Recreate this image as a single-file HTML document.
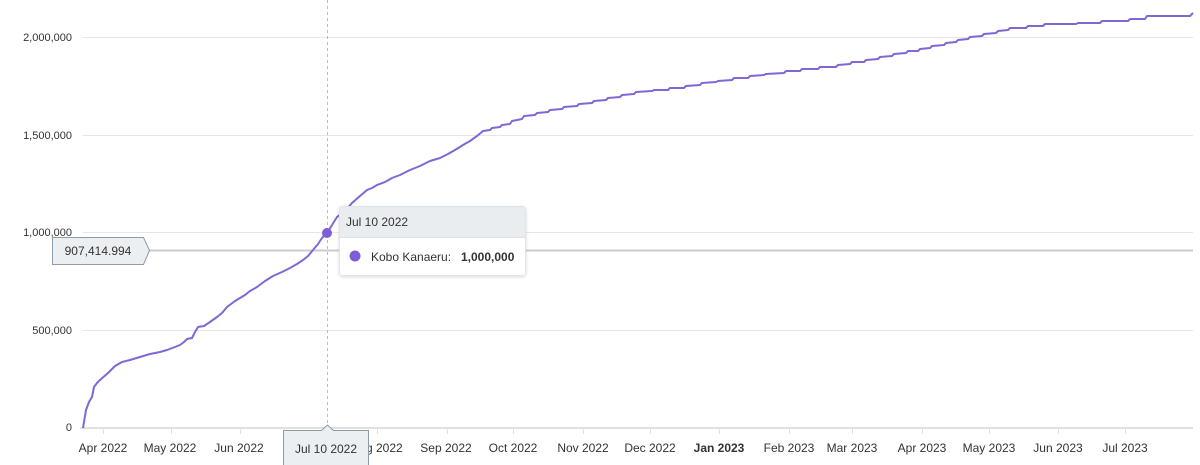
<!DOCTYPE html>
<html><head><meta charset="utf-8"><style>
html,body{margin:0;padding:0;background:#fff;}
svg{display:block;font-family:"Liberation Sans",Arial,sans-serif;}
</style></head><body>
<svg width="1200" height="465" viewBox="0 0 1200 465" xmlns="http://www.w3.org/2000/svg">
<rect width="1200" height="465" fill="#fff"/>
<!-- grid -->
<g stroke="#e6e6e6" stroke-width="1">
<line x1="83" y1="37.5" x2="1193" y2="37.5"/>
<line x1="83" y1="135.5" x2="1193" y2="135.5"/>
<line x1="83" y1="232.5" x2="1193" y2="232.5"/>
<line x1="83" y1="330.5" x2="1193" y2="330.5"/>
</g>
<line x1="80" y1="428" x2="1193" y2="428" stroke="#e0e0e0" stroke-width="2"/>
<g stroke="#e0e0e0" stroke-width="1">
<line x1="103.5" y1="428" x2="103.5" y2="434"/>
<line x1="171.5" y1="428" x2="171.5" y2="434"/>
<line x1="240.5" y1="428" x2="240.5" y2="434"/>
<line x1="377.5" y1="428" x2="377.5" y2="434"/>
<line x1="447.5" y1="428" x2="447.5" y2="434"/>
<line x1="513.5" y1="428" x2="513.5" y2="434"/>
<line x1="583.5" y1="428" x2="583.5" y2="434"/>
<line x1="650.5" y1="428" x2="650.5" y2="434"/>
<line x1="719.5" y1="428" x2="719.5" y2="434"/>
<line x1="789.5" y1="428" x2="789.5" y2="434"/>
<line x1="852.5" y1="428" x2="852.5" y2="434"/>
<line x1="922.5" y1="428" x2="922.5" y2="434"/>
<line x1="989.5" y1="428" x2="989.5" y2="434"/>
<line x1="1058.5" y1="428" x2="1058.5" y2="434"/>
<line x1="1125.5" y1="428" x2="1125.5" y2="434"/>
</g>
<!-- y labels -->
<g font-size="11" fill="#333" text-anchor="end">
<text x="72" y="41">2,000,000</text>
<text x="72" y="139">1,500,000</text>
<text x="72" y="236">1,000,000</text>
<text x="72" y="334">500,000</text>
<text x="72" y="431">0</text>
</g>
<!-- x labels -->
<g font-size="12" fill="#333" text-anchor="middle">
<text x="103" y="452">Apr 2022</text>
<text x="170" y="452">May 2022</text>
<text x="239" y="452">Jun 2022</text>
<text x="377" y="452">Aug 2022</text>
<text x="446" y="452">Sep 2022</text>
<text x="513" y="452">Oct 2022</text>
<text x="583" y="452">Nov 2022</text>
<text x="650" y="452">Dec 2022</text>
<text x="719" y="452" font-weight="bold">Jan 2023</text>
<text x="789" y="452">Feb 2023</text>
<text x="852" y="452">Mar 2023</text>
<text x="922" y="452">Apr 2023</text>
<text x="989" y="452">May 2023</text>
<text x="1058" y="452">Jun 2023</text>
<text x="1125" y="452">Jul 2023</text>
</g>
<!-- crosshairs -->
<line x1="327.5" y1="0" x2="327.5" y2="428" stroke="#bbb" stroke-width="1" stroke-dasharray="3,3"/>
<line x1="148" y1="250.5" x2="1193" y2="250.5" stroke="#cccccc" stroke-width="2"/>
<!-- series -->
<path fill="none" stroke="#8067d6" stroke-width="2" stroke-linejoin="round" d="
M83,428 L86,410 L89,402 L92,397 L94,387 L97,383 L100,380 L108,373 L115,366 L122,362 L130,360 L140,357 L150,354 L160,352 L167,350 L175,347 L180,345 L184,342 L187,339 L192,338 L195,332 L198,327 L204,326 L210,322 L217,317 L222,313 L227,307 L235,301 L245,295 L250,291 L257,287 L265,281 L273,276 L282,272 L290,268 L297,264 L303,260 L308,256 L313,250 L318,244 L322,238 L327,233 L332,225 L337,217 L344,212 L352,203 L360,196 L367,190 L372,188 L377,185 L385,182 L392,178 L400,175 L410,170 L420,166 L430,161 L440,158 L448,154 L455,150 L463,145 L470,141 L477,136 L483,131
L490,130 L492,128 L500,127 L502,125 L510,124 L512,121 L522,119 L524,116 L535,115 L537,113 L548,112 L550,110 L562,109 L564,107 L577,106 L579,104 L592,103 L594,101 L606,100 L608,98 L620,97 L622,95 L634,94 L636,92 L652,91 L654,90 L668,90 L670,88 L684,88 L686,86 L700,85 L702,83 L716,82 L718,81 L732,80 L734,78 L748,78 L750,76 L764,75 L766,74 L784,73 L786,71 L800,71 L802,69 L818,69 L820,67 L836,67 L838,65 L850,64 L852,62 L864,62 L866,60 L878,59 L880,57 L892,56 L894,54 L906,53 L908,51 L918,51 L920,49 L930,48 L932,46 L944,45 L946,43 L956,42 L958,40 L968,39 L970,37 L982,36 L984,34 L996,33 L998,31 L1008,30 L1010,28 L1026,28 L1028,26 L1043,26 L1045,24 L1076,24 L1078,23 L1100,23 L1102,21 L1128,21 L1130,19 L1145,19 L1147,16 L1190,16 L1193,13"/>
<circle cx="327" cy="233" r="5" fill="#7b5fd6"/>
<!-- y crosshair label -->
<path d="M52.5,237.5 H143.5 L149.5,250.5 L143.5,264.5 H52.5 Z" fill="#eceff2" stroke="#8c9ca8" stroke-width="1"/>
<text x="98" y="255" font-size="12" fill="#333" text-anchor="middle">907,414.994</text>
<!-- x crosshair label -->
<path d="M283.5,470 V430.5 H321.5 L327.5,425 L333.5,430.5 H368.5 V470" fill="#eceff2" stroke="#8c9ca8" stroke-width="1"/>
<text x="326" y="453" font-size="12" fill="#333" text-anchor="middle">Jul 10 2022</text>
<!-- tooltip -->
<defs>
<filter id="sh" x="-10%" y="-10%" width="120%" height="130%">
<feDropShadow dx="0" dy="1" stdDeviation="1.5" flood-color="#000" flood-opacity="0.15"/>
</filter>
<clipPath id="tc"><rect x="339" y="206" width="187" height="70" rx="3"/></clipPath>
</defs>
<rect x="339" y="206" width="187" height="70" rx="3" fill="#fff" filter="url(#sh)"/>
<g clip-path="url(#tc)">
<rect x="339" y="206" width="187" height="31" fill="#eaedf0"/>
<line x1="339" y1="237.5" x2="526" y2="237.5" stroke="#dcdfe3" stroke-width="1"/>
</g>
<rect x="339.5" y="206.5" width="186" height="69" rx="3" fill="none" stroke="#e2e5e8" stroke-width="1"/>
<text x="346" y="226" font-size="12" fill="#333">Jul 10 2022</text>
<circle cx="355" cy="256" r="5.5" fill="#7b5fd6"/>
<text x="371" y="261" font-size="12" fill="#333">Kobo Kanaeru:</text>
<text x="461" y="261" font-size="12" fill="#333" font-weight="bold">1,000,000</text>
</svg>
</body></html>
